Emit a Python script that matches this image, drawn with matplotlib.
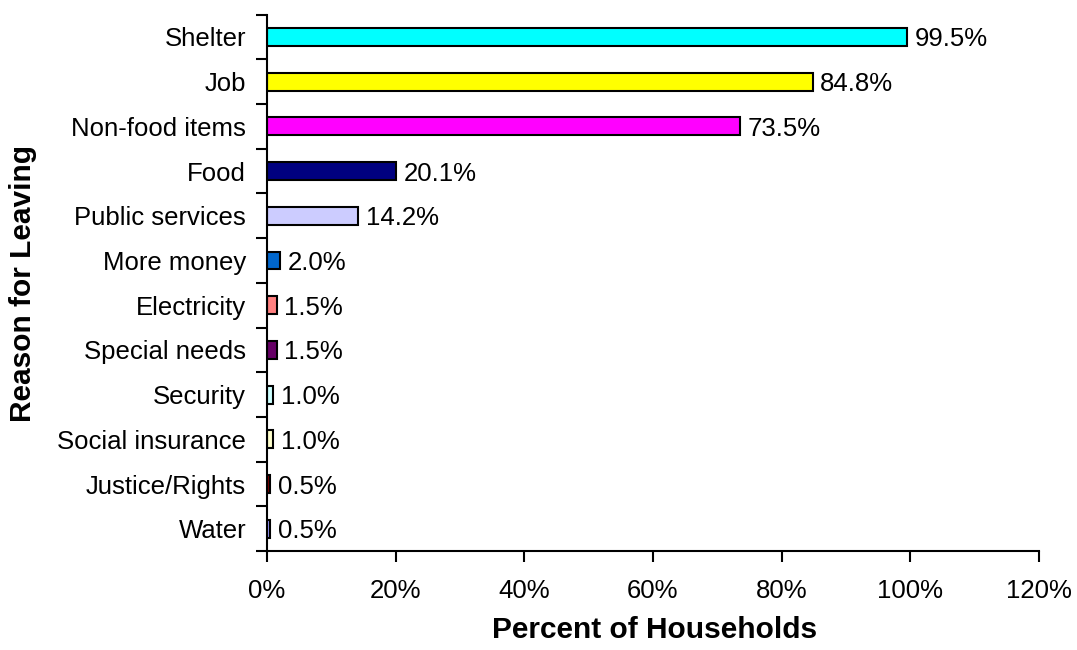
import matplotlib
matplotlib.use("Agg")
import matplotlib.pyplot as plt
from matplotlib.ticker import FixedLocator, PercentFormatter

plt.rcParams['font.family'] = ['Liberation Sans', 'DejaVu Sans']

reasons = ["Shelter", "Job", "Non-food items", "Food", "Public services",
           "More money", "Electricity", "Special needs", "Security",
           "Social insurance", "Justice/Rights", "Water"]
percents = [99.5, 84.8, 73.5, 20.1, 14.2, 2.0, 1.5, 1.5, 1.0, 1.0, 0.5, 0.5]
colors = ["#00FFFF", "#FFFF00", "#FF00FF", "#000080", "#CCCCFF", "#0066CC",
          "#FF8080", "#660066", "#CCFFFF", "#FFFFCC", "#800000", "#9999FF"]
x_ticks = [0, 20, 40, 60, 80, 100, 120]

FS = 18.5
TITLE_FS = 21.5

fig = plt.figure(figsize=(10.77, 6.5), dpi=100)
ax = fig.add_axes([0.2479, 0.152, 0.7168, 0.8255])

ypos = list(range(len(reasons)))
ax.barh(ypos, percents, height=0.4, color=colors, edgecolor="black", linewidth=1.5)

for y, v in zip(ypos, percents):
    ax.text(v + 1.2, y, f"{v:.1f}%", va="center_baseline", ha="left", fontsize=FS)

ax.set_ylim(len(reasons) - 0.5, -0.5)
ax.set_xlim(0, 120)

ax.set_yticks(ypos)
ax.set_yticklabels(reasons, fontsize=FS)
ax.tick_params(axis="y", which="major", length=0, pad=15)
ax.yaxis.set_minor_locator(FixedLocator([i - 0.5 for i in range(len(reasons) + 1)]))
ax.tick_params(axis="y", which="minor", length=8, width=1.5, direction="out")

ax.set_xticks(x_ticks)
ax.xaxis.set_major_formatter(PercentFormatter(decimals=0))
ax.tick_params(axis="x", which="major", length=8, width=1.5, direction="out",
               labelsize=FS, pad=12)

for side in ("top", "right"):
    ax.spines[side].set_visible(False)
for side in ("left", "bottom"):
    ax.spines[side].set_linewidth(1.5)

ax.set_xlabel("Percent of Households", fontsize=TITLE_FS, fontweight="bold")
ax.set_ylabel("Reason for Leaving", fontsize=TITLE_FS, fontweight="bold")

# place axis titles in figure coordinates
ax.xaxis.set_label_coords(655 / 1077, 1 - 630 / 650, transform=fig.transFigure)
ax.xaxis.label.set_va("center")
ax.yaxis.set_label_coords(23 / 1077, 1 - 283 / 650, transform=fig.transFigure)
ax.yaxis.label.set_va("center")

fig.savefig("out.png", dpi=100)
